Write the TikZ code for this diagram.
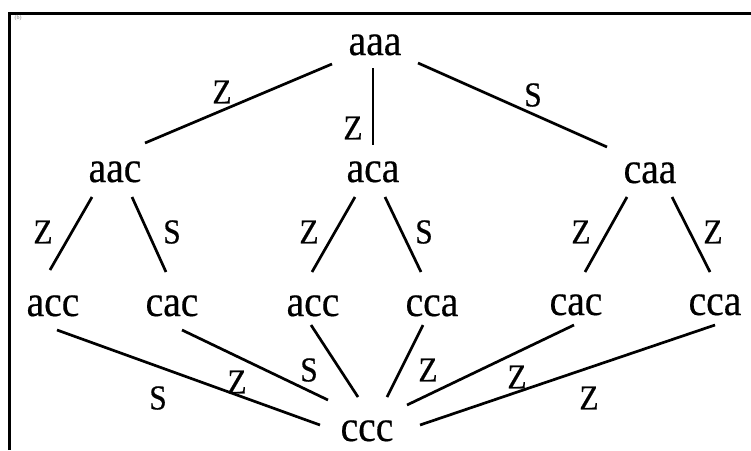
\documentclass[tikz,border=0pt]{standalone}
\usepackage{fontspec}
\setmainfont{Liberation Serif}
\newfontfamily\dfont{Liberation Serif}[FakeStretch=0.9,FakeBold=0.4]
\begin{document}
\begin{tikzpicture}[x=1pt,y=-1pt,
  st/.style={anchor=base, inner sep=0pt, font=\dfont\fontsize{44}{50}\selectfont},
  lbl/.style={inner sep=0pt, font=\dfont\fontsize{35}{40}\selectfont},
  edgeline/.style={line width=2.7pt}]
\useasboundingbox (0,0) rectangle (751,450);
\draw[line width=3pt] (9.5,450) -- (9.5,13) -- (751,13);
\node[inner sep=0pt, font=\fontsize{6}{7}\selectfont, text=gray] (tag) at (18,18) {(b)};
% nodes
\node[st] (aaa) at (375,55) {aaa};
\node[st] (aac) at (115,182) {aac};
\node[st] (aca) at (373,182) {aca};
\node[st] (caa) at (650,183) {caa};
\node[st] (acc1) at (53,316) {acc};
\node[st] (cac1) at (172,316) {cac};
\node[st] (acc2) at (313,316) {acc};
\node[st] (cca1) at (432,316) {cca};
\node[st] (cac2) at (576,315) {cac};
\node[st] (cca2) at (715,315) {cca};
\node[st] (ccc) at (367,441) {ccc};
% edges
\draw[edgeline] ([shift={(-43,9)}]aaa.base) -- node[lbl, shift={(-16.5,-11.5)}] {Z} ([shift={(30,-39)}]aac.base);
\draw[edgeline] ([shift={(-2,13)}]aaa.base) -- node[lbl, shift={(-20,21.5)}] {Z} ([shift={(0,-37)}]aca.base);
\draw[edgeline] ([shift={(43,8)}]aaa.base) -- node[lbl, shift={(20.5,-10)}] {S} ([shift={(-43,-36)}]caa.base);
\draw[edgeline] ([shift={(-23,15)}]aac.base) -- node[lbl, shift={(-28,-1.5)}] {Z} ([shift={(-3,-46)}]acc1.base);
\draw[edgeline] ([shift={(17,15)}]aac.base) -- node[lbl, shift={(23,-2.5)}] {S} ([shift={(-6,-44)}]cac1.base);
\draw[edgeline] ([shift={(-18,15)}]aca.base) -- node[lbl, shift={(-24.5,-2.5)}] {Z} ([shift={(-1,-44)}]acc2.base);
\draw[edgeline] ([shift={(12,15)}]aca.base) -- node[lbl, shift={(21,-2.5)}] {S} ([shift={(-11,-44)}]cca1.base);
\draw[edgeline] ([shift={(-23,14)}]caa.base) -- node[lbl, shift={(-25,-2.5)}] {Z} ([shift={(9,-43)}]cac2.base);
\draw[edgeline] ([shift={(22,14)}]caa.base) -- node[lbl, shift={(22,-2.5)}] {Z} ([shift={(-5,-43)}]cca2.base);
\draw[edgeline] ([shift={(4,14)}]acc1.base) -- node[lbl, shift={(-30.5,20.5)}] {S} ([shift={(-47,-16)}]ccc.base);
\draw[edgeline] ([shift={(10,14)}]cac1.base) -- node[lbl, shift={(-18,17)}] {Z} ([shift={(-39,-41)}]ccc.base);
\draw[edgeline] ([shift={(-2,9)}]acc2.base) -- node[lbl, shift={(-25.5,9)}] {S} ([shift={(-9,-44)}]ccc.base);
\draw[edgeline] ([shift={(-9,9)}]cca1.base) -- node[lbl, shift={(23,9)}] {Z} ([shift={(20,-44)}]ccc.base);
\draw[edgeline] ([shift={(-2,10)}]cac2.base) -- node[lbl, shift={(26.5,12)}] {Z} ([shift={(40,-36)}]ccc.base);
\draw[edgeline] ([shift={(0,10)}]cca2.base) -- node[lbl, shift={(21.5,23)}] {Z} ([shift={(53,-16)}]ccc.base);
\end{tikzpicture}
\end{document}
